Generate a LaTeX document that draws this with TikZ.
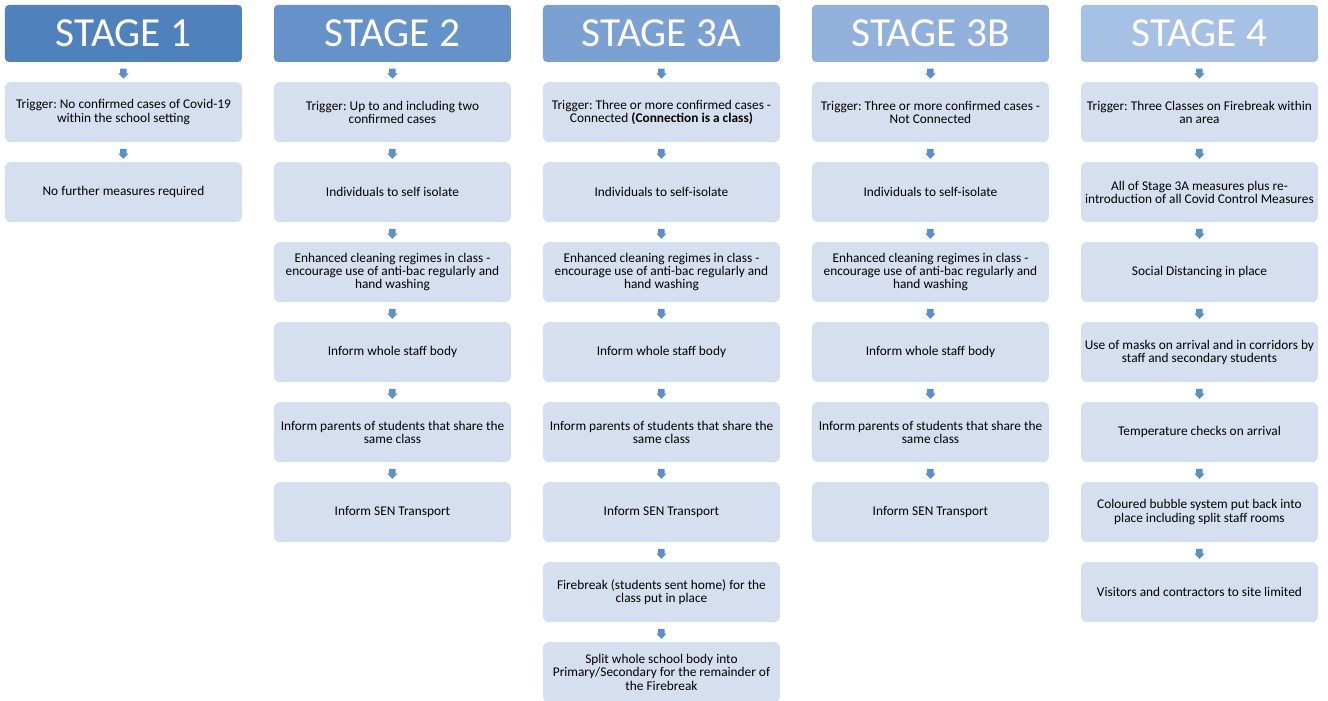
\documentclass[tikz,border=0pt]{standalone}
\usepackage{fontspec}
\setmainfont{Carlito}
\usetikzlibrary{positioning}
\usetikzlibrary{shapes.arrows}
\frenchspacing

\definecolor{stageA}{RGB}{79,129,189}
\definecolor{stageB}{RGB}{101,146,200}
\definecolor{stageC}{RGB}{122,161,210}
\definecolor{stageD}{RGB}{145,177,220}
\definecolor{stageE}{RGB}{167,193,229}
\definecolor{boxfill}{RGB}{214,223,239}
\definecolor{arrowblue}{RGB}{91,143,205}

\begin{document}
\begin{tikzpicture}[node distance = 60pt, on grid,
	stage/.style = {rectangle, rounded corners = 3pt, minimum width = 177.75pt, minimum height = 42.75pt, text = white, font = \fontsize{31}{31}\selectfont, inner sep = 0pt},
	stepbox/.style = {rectangle, rounded corners = 4.5pt, fill = boxfill, minimum width = 177.75pt, minimum height = 45pt, align = center, font = \fontsize{10}{10}\selectfont, inner sep = 1pt},
	darrow/.style = {single arrow, shape border rotate = 270, fill = arrowblue, text width = 4.5pt, text height = 4.5pt, text depth = 0pt, minimum height = 7.5pt, single arrow head extend = 1.5pt, single arrow head indent = 0pt, inner sep = 0pt}]
	\useasboundingbox (0,0) rectangle (996pt,-525pt);
	% headers
	\node[stage, fill = stageA] (S1) at (92.6pt,-25.1pt) {STAGE 1};
	\node[stage, fill = stageB] (S2) [node distance = 201.75pt, right = of S1] {STAGE 2};
	\node[stage, fill = stageC] (S3a) [node distance = 201.75pt, right = of S2] {STAGE 3A};
	\node[stage, fill = stageD] (S3b) [node distance = 201.75pt, right = of S3a] {STAGE 3B};
	\node[stage, fill = stageE] (S4) [node distance = 201.75pt, right = of S3b] {STAGE 4};
	% stage 1
	\node[stepbox] (A1) [node distance = 59pt, below = of S1] {Trigger: No confirmed cases of Covid-19\\within the school setting};
	\node[stepbox] (A2) [below = of A1] {No further measures required};
	% stage 2
	\node[stepbox] (B1) [node distance = 59pt, below = of S2] {Trigger: Up to and including two\\confirmed cases};
	\node[stepbox] (B2) [below = of B1] {Individuals to self isolate};
	\node[stepbox] (B3) [below = of B2] {Enhanced cleaning regimes in class -\\encourage use of anti-bac regularly and\\hand washing};
	\node[stepbox] (B4) [below = of B3] {Inform whole staff body};
	\node[stepbox] (B5) [below = of B4] {Inform parents of students that share the\\same class};
	\node[stepbox] (B6) [below = of B5] {Inform SEN Transport};
	% stage 3A
	\node[stepbox] (C1) [node distance = 59pt, below = of S3a] {Trigger: Three or more confirmed cases -\\Connected \textbf{(Connection is a class)}};
	\node[stepbox] (C2) [below = of C1] {Individuals to self-isolate};
	\node[stepbox] (C3) [below = of C2] {Enhanced cleaning regimes in class -\\encourage use of anti-bac regularly and\\hand washing};
	\node[stepbox] (C4) [below = of C3] {Inform whole staff body};
	\node[stepbox] (C5) [below = of C4] {Inform parents of students that share the\\same class};
	\node[stepbox] (C6) [below = of C5] {Inform SEN Transport};
	\node[stepbox] (C7) [below = of C6] {Firebreak (students sent home) for the\\class put in place};
	\node[stepbox] (C8) [below = of C7] {Split whole school body into\\Primary/Secondary for the remainder of\\the Firebreak};
	% stage 3B
	\node[stepbox] (D1) [node distance = 59pt, below = of S3b] {Trigger: Three or more confirmed cases -\\Not Connected};
	\node[stepbox] (D2) [below = of D1] {Individuals to self-isolate};
	\node[stepbox] (D3) [below = of D2] {Enhanced cleaning regimes in class -\\encourage use of anti-bac regularly and\\hand washing};
	\node[stepbox] (D4) [below = of D3] {Inform whole staff body};
	\node[stepbox] (D5) [below = of D4] {Inform parents of students that share the\\same class};
	\node[stepbox] (D6) [below = of D5] {Inform SEN Transport};
	% stage 4
	\node[stepbox] (E1) [node distance = 59pt, below = of S4] {Trigger: Three Classes on Firebreak within\\an area};
	\node[stepbox] (E2) [below = of E1] {All of Stage 3A measures plus re-\\introduction of all Covid Control Measures};
	\node[stepbox] (E3) [below = of E2] {Social Distancing in place};
	\node[stepbox] (E4) [below = of E3] {Use of masks on arrival and in corridors by\\staff and secondary students};
	\node[stepbox] (E5) [below = of E4] {Temperature checks on arrival};
	\node[stepbox] (E6) [below = of E5] {Coloured bubble system put back into\\place including split staff rooms};
	\node[stepbox] (E7) [below = of E6] {Visitors and contractors to site limited};
	% arrows
	\path (S1) -- node[darrow]{} (A1);
	\path (A1) -- node[darrow]{} (A2);
	\path (S2) -- node[darrow]{} (B1);
	\path (B1) -- node[darrow]{} (B2);
	\path (B2) -- node[darrow]{} (B3);
	\path (B3) -- node[darrow]{} (B4);
	\path (B4) -- node[darrow]{} (B5);
	\path (B5) -- node[darrow]{} (B6);
	\path (S3a) -- node[darrow]{} (C1);
	\path (C1) -- node[darrow]{} (C2);
	\path (C2) -- node[darrow]{} (C3);
	\path (C3) -- node[darrow]{} (C4);
	\path (C4) -- node[darrow]{} (C5);
	\path (C5) -- node[darrow]{} (C6);
	\path (C6) -- node[darrow]{} (C7);
	\path (C7) -- node[darrow]{} (C8);
	\path (S3b) -- node[darrow]{} (D1);
	\path (D1) -- node[darrow]{} (D2);
	\path (D2) -- node[darrow]{} (D3);
	\path (D3) -- node[darrow]{} (D4);
	\path (D4) -- node[darrow]{} (D5);
	\path (D5) -- node[darrow]{} (D6);
	\path (S4) -- node[darrow]{} (E1);
	\path (E1) -- node[darrow]{} (E2);
	\path (E2) -- node[darrow]{} (E3);
	\path (E3) -- node[darrow]{} (E4);
	\path (E4) -- node[darrow]{} (E5);
	\path (E5) -- node[darrow]{} (E6);
	\path (E6) -- node[darrow]{} (E7);
\end{tikzpicture}
\end{document}
